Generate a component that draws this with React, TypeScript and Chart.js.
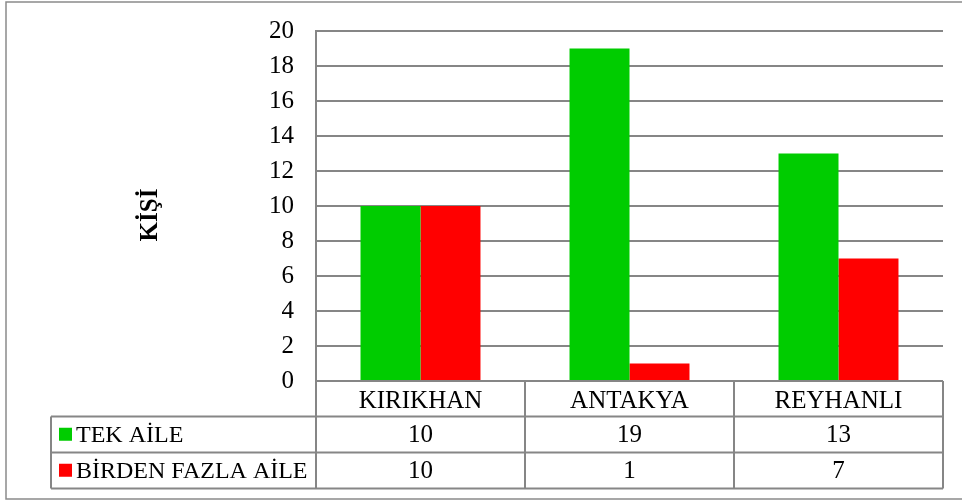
import React, { useEffect, useRef } from "react";
import { Chart, registerables } from "chart.js";

Chart.register(...registerables);

const categories = ["KIRIKHAN", "ANTAKYA", "REYHANLI"];
const tekAile = [10, 19, 13];
const birdenFazlaAile = [10, 1, 7];
const seriesNames = ["TEK AİLE", "BİRDEN FAZLA AİLE"];
const seriesColors = ["#00CC00", "#FF0000"];
const yAxisTitle = "KİŞİ";
const yMin = 0;
const yMax = 20;
const yStep = 2;

const FONT = "'Liberation Serif', 'Times New Roman', serif";
const GRID = "#868686";
const FS = 25;

const tablePlugin = {
  id: "dataTable",
  afterDraw(chart: any) {
    const ctx = chart.ctx;
    const area = chart.chartArea;
    const n = categories.length;
    const cw = (area.right - area.left) / n;
    const rowH = 35.5;
    const catBottom = area.bottom + rowH;
    const r1Bottom = catBottom + rowH + 0.5;
    const r2Bottom = r1Bottom + rowH + 0.5;
    const tableLeft = 51;
    ctx.save();
    ctx.strokeStyle = GRID;
    ctx.lineWidth = 2;
    ctx.beginPath();
    ctx.moveTo(tableLeft, catBottom);
    ctx.lineTo(area.right, catBottom);
    ctx.moveTo(tableLeft, r1Bottom);
    ctx.lineTo(area.right, r1Bottom);
    ctx.moveTo(tableLeft, r2Bottom);
    ctx.lineTo(area.right, r2Bottom);
    for (let k = 0; k <= n; k++) {
      const x = area.left + k * cw;
      ctx.moveTo(x, area.bottom);
      ctx.lineTo(x, r2Bottom);
    }
    ctx.moveTo(tableLeft, catBottom);
    ctx.lineTo(tableLeft, r2Bottom);
    ctx.stroke();

    ctx.strokeStyle = "#8a8a8a";
    ctx.lineWidth = 1.5;
    ctx.strokeRect(6, 2, 980, 497);

    const series = [tekAile, birdenFazlaAile];
    const rowTops = [catBottom, r1Bottom];
    ctx.textBaseline = "middle";
    for (let s = 0; s < series.length; s++) {
      const cy = rowTops[s] + rowH / 2;
      ctx.fillStyle = seriesColors[s];
      ctx.fillRect(59, cy - 6.5, 13, 13);
      ctx.fillStyle = "#000";
      ctx.textAlign = "left";
      ctx.font = `24px ${FONT}`;
      ctx.fillText(seriesNames[s], 76, cy + 1);
      ctx.textAlign = "center";
      ctx.font = `${FS}px ${FONT}`;
      for (let i = 0; i < n; i++) {
        const x = chart.scales.x.getPixelForValue(i);
        ctx.fillText(String(series[s][i]), x, cy + 1);
      }
    }

    ctx.save();
    ctx.translate(151, 215);
    ctx.rotate(-Math.PI / 2);
    ctx.font = `bold ${FS}px ${FONT}`;
    ctx.textAlign = "center";
    ctx.textBaseline = "middle";
    ctx.fillStyle = "#000";
    ctx.fillText(yAxisTitle, 0, 0);
    ctx.restore();
    ctx.restore();
  },
};

export default function App() {
  const ref = useRef<HTMLCanvasElement>(null);
  useEffect(() => {
    if (!ref.current) return;
    const chart = new Chart(ref.current, {
      type: "bar",
      data: {
        labels: categories,
        datasets: [
          { label: seriesNames[0], data: tekAile, backgroundColor: seriesColors[0], borderWidth: 0 },
          { label: seriesNames[1], data: birdenFazlaAile, backgroundColor: seriesColors[1], borderWidth: 0 },
        ],
      },
      options: {
        responsive: false,
        animation: false,
        layout: { padding: { top: 31, right: 19, bottom: 86, left: 0 } },
        plugins: { legend: { display: false }, tooltip: { enabled: false } },
        datasets: { bar: { categoryPercentage: 0.574, barPercentage: 1 } },
        scales: {
          x: {
            grid: { display: false, drawTicks: false },
            border: { display: false },
            ticks: { color: "#000", font: { family: FONT, size: FS }, padding: 5 },
            afterFit: (s: any) => { s.height = 35; s.paddingLeft = 0; s.paddingRight = 0; },
          },
          y: {
            min: yMin,
            max: yMax,
            grid: { color: GRID, lineWidth: 2, drawTicks: false },
            border: { display: true, color: GRID, width: 2 },
            ticks: { stepSize: yStep, color: "#000", font: { family: FONT, size: FS }, padding: 22 },
            afterFit: (s: any) => { s.width = 316; s.paddingTop = 0; s.paddingBottom = 0; },
          },
        },
      },
      plugins: [tablePlugin],
    });
    return () => chart.destroy();
  }, []);
  return (
    <div style={{ position: "absolute", left: 0, top: 0, width: 962, height: 502, background: "#fff" }}>
      <canvas ref={ref} width={962} height={502} style={{ display: "block" }} />
    </div>
  );
}
